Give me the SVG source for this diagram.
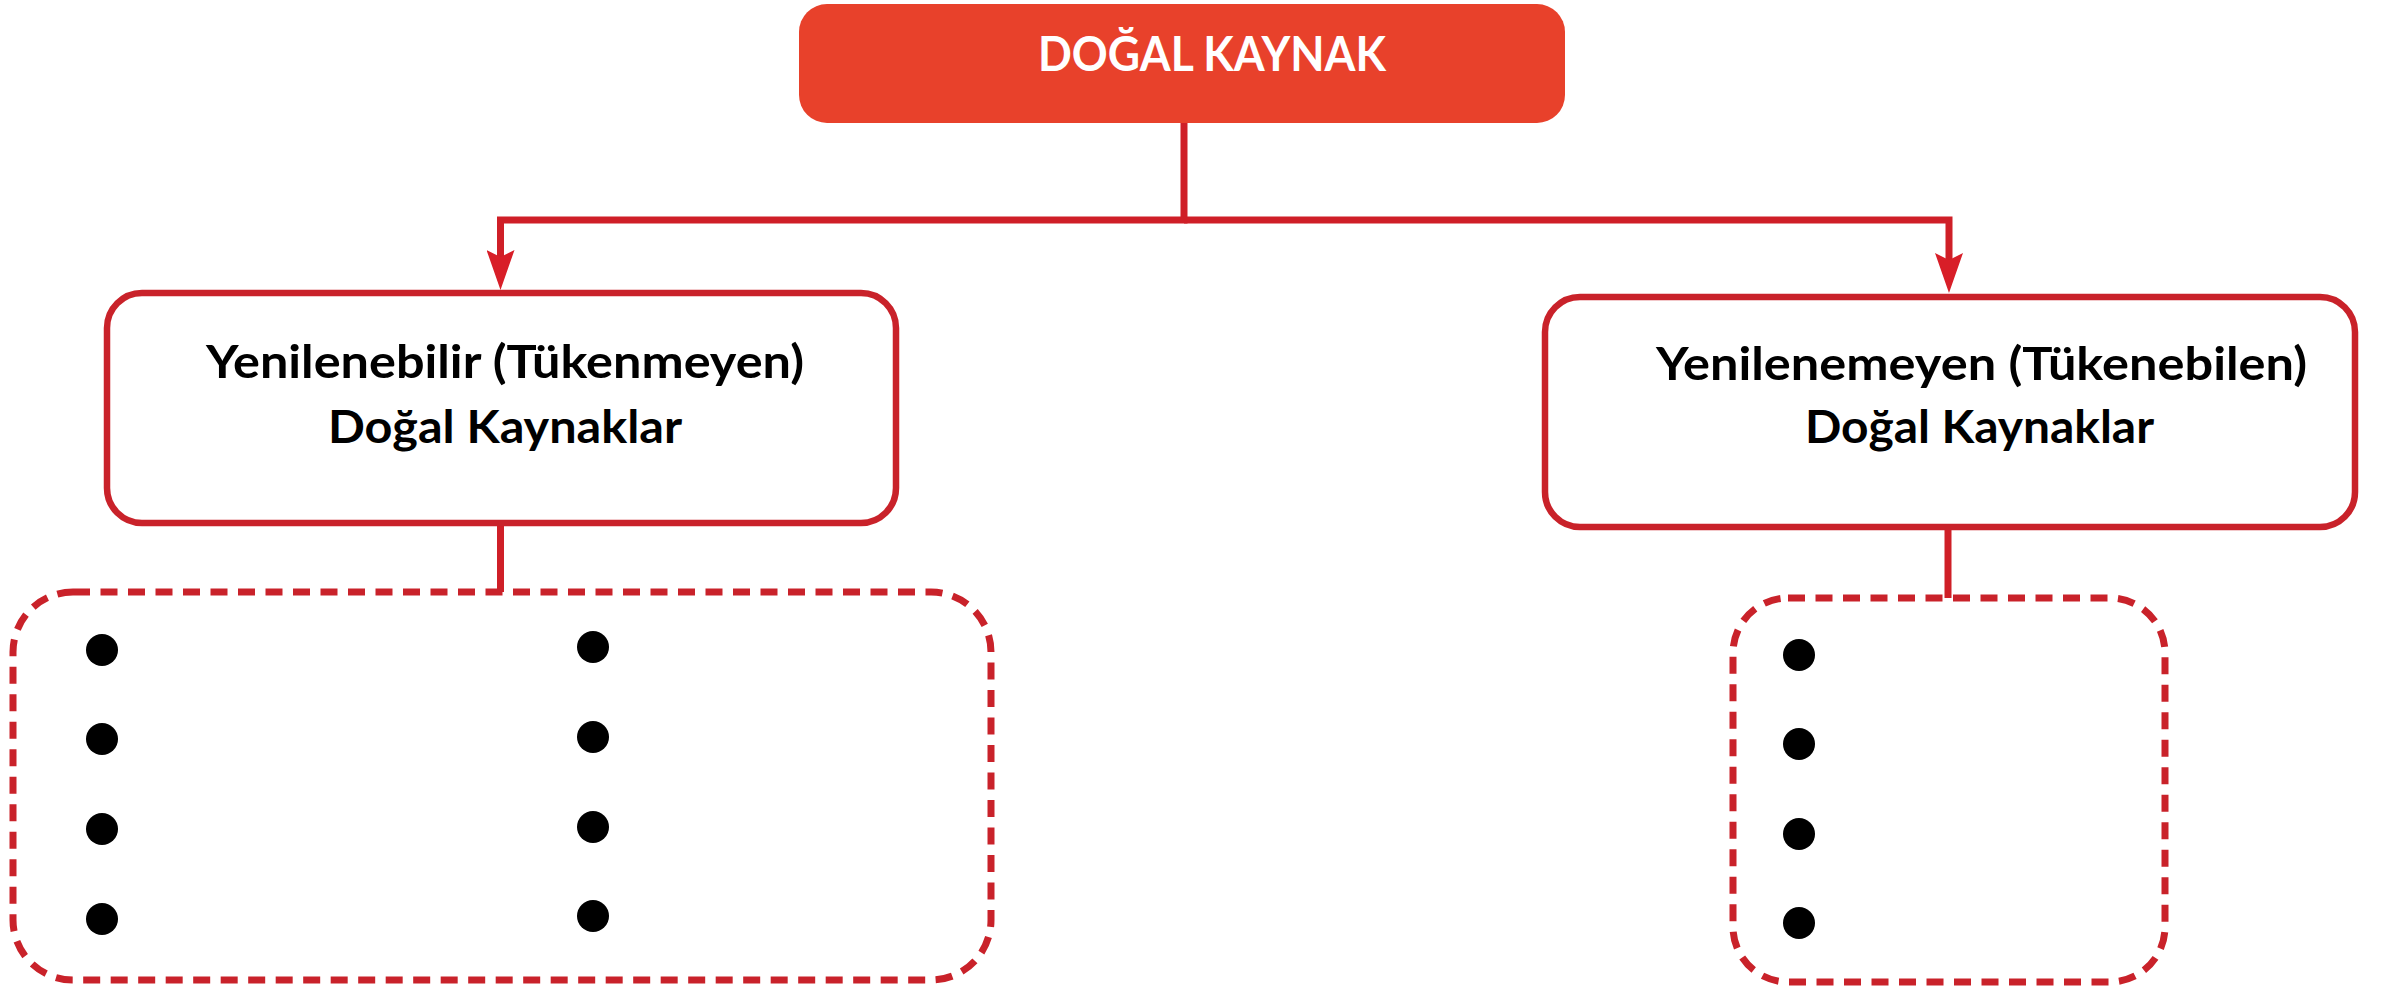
<svg xmlns="http://www.w3.org/2000/svg" width="2392" height="989" viewBox="0 0 2392 989">
  <defs>
    <style>
      .top { fill: #E8412B; }
      .box { fill: #FFFFFF; stroke: #C9222A; stroke-width: 6.5; }
      .dash { fill: none; stroke: #C9222A; stroke-width: 7; stroke-dasharray: 17 10.5; }
      .conn { fill: none; stroke: #CF1F27; stroke-width: 7; stroke-linejoin: miter; }
      .label { font-family: Lato, "Open Sans", "Liberation Sans", sans-serif; font-weight: 700; fill: #000000; font-size: 46px; }
      .title { font-family: Lato, "Open Sans", "Liberation Sans", sans-serif; font-weight: 700; fill: #FFFFFF; font-size: 48.5px; }
      .dot { fill: #000000; }
    </style>
    <marker id="arrow" viewBox="0 0 40 28" markerWidth="40" markerHeight="28" refX="10" refY="14" orient="auto" markerUnits="userSpaceOnUse">
      <path d="M0,0 L40,14 L0,28 L7,14 Z" fill="#D81E28"/>
    </marker>
  </defs>
  <rect width="2392" height="989" fill="#FFFFFF"/>

  <g id="connectors">
    <path class="conn" d="M1184,123 V220 H500.5 V260" marker-end="url(#arrow)"/>
    <path class="conn" d="M1184,220 H1949 V263" marker-end="url(#arrow)"/>
    <path class="conn" d="M500.5,523 V592"/>
    <path class="conn" d="M1948,528 V598"/>
  </g>

  <g id="node-dogal-kaynak">
    <rect class="top" x="799" y="4" width="766" height="119" rx="28" ry="28"/>
    <text class="title" x="1038" y="71" textLength="348" lengthAdjust="spacingAndGlyphs">DOĞAL KAYNAK</text>
  </g>

  <g id="node-yenilenebilir">
    <rect class="box" x="107" y="293" width="789" height="230" rx="35" ry="35"/>
    <text class="label" x="206" y="378" textLength="598" lengthAdjust="spacingAndGlyphs">Yenilenebilir (Tükenmeyen)</text>
    <text class="label" x="328" y="443" textLength="354" lengthAdjust="spacingAndGlyphs">Doğal Kaynaklar</text>
  </g>

  <g id="node-yenilenemeyen">
    <rect class="box" x="1545" y="297" width="810" height="230" rx="35" ry="35"/>
    <text class="label" x="1656" y="380" textLength="651" lengthAdjust="spacingAndGlyphs">Yenilenemeyen (Tükenebilen)</text>
    <text class="label" x="1805" y="443" textLength="349" lengthAdjust="spacingAndGlyphs">Doğal Kaynaklar</text>
  </g>

  <g id="node-list-left">
    <rect class="dash" x="13" y="592" width="978" height="388" rx="60" ry="60"/>
    <circle class="dot" cx="102" cy="650" r="16"/>
    <circle class="dot" cx="102" cy="739" r="16"/>
    <circle class="dot" cx="102" cy="829" r="16"/>
    <circle class="dot" cx="102" cy="919" r="16"/>
    <circle class="dot" cx="593" cy="647" r="16"/>
    <circle class="dot" cx="593" cy="737" r="16"/>
    <circle class="dot" cx="593" cy="827" r="16"/>
    <circle class="dot" cx="593" cy="916" r="16"/>
  </g>

  <g id="node-list-right">
    <rect class="dash" x="1733" y="598" width="432" height="384" rx="55" ry="55"/>
    <circle class="dot" cx="1799" cy="655" r="16"/>
    <circle class="dot" cx="1799" cy="744" r="16"/>
    <circle class="dot" cx="1799" cy="834" r="16"/>
    <circle class="dot" cx="1799" cy="923" r="16"/>
  </g>
</svg>
